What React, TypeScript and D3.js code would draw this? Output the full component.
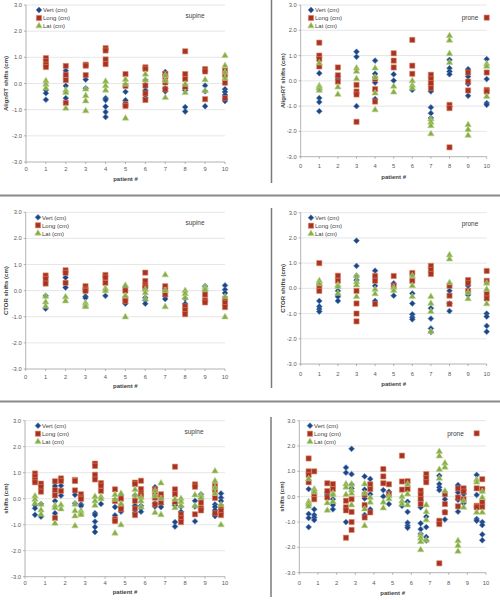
import React from "react";
import * as d3 from "d3";

// ---------- data: values per patient (index 0 = patient 1) ----------
const patients = [1, 2, 3, 4, 5, 6, 7, 8, 9, 10];
const xTicks = [0, 1, 2, 3, 4, 5, 6, 7, 8, 9, 10];
const yTicks = [3, 2, 1, 0, -1, -2, -3];
const seriesNames = ["Vert (cm)", "Long (cm)", "Lat (cm)"];

// AlignRT supine
const alignSupineVert = [[-0.25, -0.37, -0.62], [0.49, -0.09, -0.56], [0.15, -0.18], [-0.56, -0.63, -0.88, -1.09, -1.28], [-0.32, -0.64], [0.13, -0.26, -0.54], [0.44, -0.18, -0.3], [-0.18, -0.26, -0.9, -1.07], [-0.08, -0.3, -0.87], [-0.22, -0.32, -0.44, -0.6, -0.67]];
const alignSupineLong = [[0.97, 0.85, 0.72, 0.63], [0.67, 0.33, 0.13, -0.74], [0.72, 0.68, 0.32], [1.35, 1.26, 0.92, 0.74], [0.36, -0.09, -0.79, -0.86], [0.62, 0.56, -0.08, -0.38, -0.63], [0.36, 0.26, 0.04, -0.22], [1.23, 0.36, 0.17, -0.13], [0.55, 0.46, -0.6], [0.49, 0.33, 0.03, -0.56]];
const alignSupineLat = [[0.1, -0.03, -0.18], [-0.26, -0.35, -0.95], [-0.22, -0.47, -0.67, -1.05], [0.08, -0.09, -0.26], [0.15, -0.03, -1.33], [0.35, 0.13], [0.3, 0.1, -0.54], [-0.03, -0.35], [0.14, -0.28], [1.06, 0.68, 0.42, 0.2]];

// AlignRT prone
const alignProneVert = [[0.3, -0.33, -0.68, -0.84, -1.2], [0.17, 0.07], [1.15, 0.95, -1.0], [0.8, 0.28, -0.07, -0.72], [0.26, 0.01], [-0.36], [-0.13, -0.42, -1.05, -1.28, -1.47], [0.83, 0.5, 0.37, 0.26], [0.46, 0.17, -0.12, -0.59], [0.86, 0.07, -0.88, -0.95]];
const alignProneLong = [[1.51, 1.0, 0.86, 0.57], [0.53, 0.22, -0.03], [-0.16, -0.42, -0.54, -1.62], [0.08, -0.33, -0.82], [1.09, 0.8, 0.53], [1.62, 0.6, 0.28], [0.24, 0.08, -0.09, -0.29], [-0.95, -1.08, -2.63], [0.33, -0.03, -0.38], [2.5, 0.33, -0.36, -0.42]];
const alignProneLat = [[0.7, -0.2, -0.28, -0.38], [-0.25, -0.54], [0.5, 0.37, 0.08], [0.5, 0.13, -0.49, -1.15], [-0.22, -0.45], [0.0, -0.18, -0.29], [-1.51, -1.64, -1.78, -2.1], [1.78, 1.6, 1.07, 0.72], [-1.74, -1.93, -2.16], [0.67, 0.57, -0.62]];

// CTOR supine
const ctorSupineVert = [[-0.2, -0.69], [0.5, 0.12], [-0.22, -0.28], [-0.2], [0.14, -0.5], [-0.27, -0.37, -0.5], [-0.22, -0.32], [-0.3, -0.5], [0.17, 0.0, -0.37], [0.2, 0.04, -0.09]];
const ctorSupineLong = [[0.58, 0.45, 0.27], [0.78, 0.68, 0.3], [0.17, 0.04, -0.01], [0.6, 0.5, 0.3], [0.0, -0.3, -0.4], [0.69, 0.37, 0.2, 0.12], [0.17, 0.01, -0.14], [-0.6, -0.75, -0.9], [-0.15, -0.37, -0.45], [-0.32, -0.47, -0.63]];
const ctorSupineLat = [[-0.22, -0.44, -0.6], [-0.24, -0.4], [-0.47, -0.56, -0.62], [0.08, -0.01], [0.2, -0.2, -1.01], [0.04, -0.09, -0.32], [0.6, 0.0, -0.62], [0.0, -0.12, -0.28], [0.14, 0.04], [-0.24, -1.01]];

// CTOR prone
const ctorProneVert = [[-0.5, -0.72, -0.82, -0.92], [-0.1, -0.26, -0.33, -0.5], [1.89, 0.89, 0.49, 0.33], [0.7, 0.1, -0.5], [0.2, -0.29], [-0.2, -0.6, -1.03, -1.15, -1.23], [-0.79, -1.2, -1.59, -1.73], [-0.1, -0.6, -0.9], [0.1, -0.26], [-1.0, -1.12, -1.49, -1.72]];
const ctorProneLong = [[1.0, 0.1, -0.1], [0.5, 0.3], [-0.1, -0.6, -1.0, -1.31], [0.49, 0.3, -0.62], [0.49, 0.1], [0.61, 0.3], [0.89, 0.73, 0.57], [0.1, -0.29, -0.62], [0.33, 0.2, -0.1], [0.69, 0.3, -0.22, -0.4]];
const ctorProneLat = [[0.3, 0.18], [0.13, 0.07, -0.2], [0.49, 0.26, 0.13, -0.33], [-0.04, -0.22], [0.03, -0.09], [0.49, 0.1, -0.33], [-0.33, -0.6, -0.92, -1.72], [1.32, 1.16, 0.22], [-0.17, -0.42], [0.2, -0.04, -0.62]];

// x offsets used in the combined panels
const alignOffset = -0.5;
const ctorOffset = -0.2;

type Pt = { x: number; y: number };
type Series = Pt[];

function toPoints(vals: number[][], offset: number): Pt[] {
  const out: Pt[] = [];
  vals.forEach((arr, i) => arr.forEach((v) => out.push({ x: patients[i] + offset, y: v })));
  return out;
}

const colors = {
  vert: { fill: "#1F4584", stroke: "#4F7DBA" },
  long: { fill: "#A83228", stroke: "#DA8458" },
  lat: { fill: "#88AD48", stroke: "#B9D38A" },
};

type PanelCfg = {
  x0: number; x10: number; yTop: number; yBot: number;
  yTitle: string; yTitleX: number; tag: string; tagX: number; tagY: number;
  tickDy: number; titleDy: number; legendX: number;
  series: Series[];
};

const panels: PanelCfg[] = [
  {
    x0: 26, x10: 225, yTop: 5, yBot: 162, yTitle: "AlignRT shifts (cm)", yTitleX: 6,
    tag: "supine", tagX: 195, tagY: 16, tickDy: 7, titleDy: 17, legendX: 39,
    series: [toPoints(alignSupineVert, 0), toPoints(alignSupineLong, 0), toPoints(alignSupineLat, 0)],
  },
  {
    x0: 300.7, x10: 486.7, yTop: 5, yBot: 156.7, yTitle: "AlignRT shifts (cm)", yTitleX: 283,
    tag: "prone", tagX: 470, tagY: 17.7, tickDy: 9.3, titleDy: 20, legendX: 311,
    series: [toPoints(alignProneVert, 0), toPoints(alignProneLong, 0), toPoints(alignProneLat, 0)],
  },
  {
    x0: 25.7, x10: 225, yTop: 212.3, yBot: 369, yTitle: "CTOR shifts (cm)", yTitleX: 6,
    tag: "supine", tagX: 195, tagY: 223.3, tickDy: 7.7, titleDy: 16.7, legendX: 38,
    series: [toPoints(ctorSupineVert, 0), toPoints(ctorSupineLong, 0), toPoints(ctorSupineLat, 0)],
  },
  {
    x0: 300.7, x10: 486.7, yTop: 212.7, yBot: 364, yTitle: "CTOR shifts (cm)", yTitleX: 283,
    tag: "prone", tagX: 470, tagY: 224.3, tickDy: 9.7, titleDy: 20, legendX: 311,
    series: [toPoints(ctorProneVert, 0), toPoints(ctorProneLong, 0), toPoints(ctorProneLat, 0)],
  },
  {
    x0: 25, x10: 225, yTop: 420.7, yBot: 576.7, yTitle: "shifts (cm)", yTitleX: 6,
    tag: "supine", tagX: 194, tagY: 432.3, tickDy: 6.6, titleDy: 15.6, legendX: 38,
    series: [
      [...toPoints(alignSupineVert, alignOffset), ...toPoints(ctorSupineVert, ctorOffset)],
      [...toPoints(alignSupineLong, alignOffset), ...toPoints(ctorSupineLong, ctorOffset)],
      [...toPoints(alignSupineLat, alignOffset), ...toPoints(ctorSupineLat, ctorOffset)],
    ],
  },
  {
    x0: 299.3, x10: 486, yTop: 420.7, yBot: 572.7, yTitle: "shifts (cm)", yTitleX: 282,
    tag: "prone", tagX: 455.5, tagY: 434, tickDy: 10, titleDy: 20, legendX: 310,
    series: [
      [...toPoints(alignProneVert, alignOffset), ...toPoints(ctorProneVert, ctorOffset)],
      [...toPoints(alignProneLong, alignOffset), ...toPoints(ctorProneLong, ctorOffset)],
      [...toPoints(alignProneLat, alignOffset), ...toPoints(ctorProneLat, ctorOffset)],
    ],
  },
];

const diamondPath = () => {
  const p = d3.path();
  const r = 2.9;
  p.moveTo(0, -r); p.lineTo(r, 0); p.lineTo(0, r); p.lineTo(-r, 0); p.closePath();
  return p.toString();
};
const diamond = diamondPath();
const square = d3.symbol().type(d3.symbolSquare).size(27)()!;
const triangle = d3.symbol().type(d3.symbolTriangle).size(18)()!;
const shapes = [diamond, square, triangle];
const styles = [colors.vert, colors.long, colors.lat];

const FONT = "'Liberation Sans', Arial, sans-serif";

function Panel({ p }: { p: PanelCfg }) {
  const x = d3.scaleLinear().domain([0, 10]).range([p.x0, p.x10]);
  const y = d3.scaleLinear().domain([-3, 3]).range([p.yBot, p.yTop]);
  return (
    <g>
      {yTicks.map((t) => (
        <line key={"g" + t} x1={p.x0} x2={p.x10} y1={y(t)} y2={y(t)} stroke={t === -3 ? "#a0a0a0" : "#e0e0e0"} strokeWidth={0.8} />
      ))}
      <line x1={p.x0} x2={p.x0} y1={p.yTop} y2={p.yBot} stroke="#a0a0a0" strokeWidth={0.8} />
      {yTicks.map((t) => (
        <g key={"yt" + t}>
          <line x1={p.x0 - 2} x2={p.x0} y1={y(t)} y2={y(t)} stroke="#a0a0a0" strokeWidth={0.8} />
          <text x={p.x0 - 4} y={y(t) + 2} fontSize={5.8} fill="#595959" textAnchor="end" fontFamily={FONT}>
            {t.toFixed(1)}
          </text>
        </g>
      ))}
      {xTicks.map((t) => (
        <g key={"xt" + t}>
          <line x1={x(t)} x2={x(t)} y1={p.yBot} y2={p.yBot + 2} stroke="#a0a0a0" strokeWidth={0.8} />
          <text x={x(t)} y={p.yBot + p.tickDy + 2} fontSize={5.8} fill="#595959" textAnchor="middle" fontFamily={FONT}>
            {t}
          </text>
        </g>
      ))}
      <text x={(p.x0 + p.x10) / 2} y={p.yBot + p.titleDy + 2} fontSize={6} fontWeight="bold" fill="#404040" textAnchor="middle" fontFamily={FONT}>
        patient #
      </text>
      <text
        transform={`translate(${p.yTitleX + 2},${(p.yTop + p.yBot) / 2}) rotate(-90)`}
        fontSize={6} fontWeight="bold" fill="#404040" textAnchor="middle" fontFamily={FONT}
      >
        {p.yTitle}
      </text>
      <text x={p.tagX} y={p.tagY + 2} fontSize={6.5} fill="#404040" textAnchor="middle" fontFamily={FONT}>
        {p.tag}
      </text>
      {seriesNames.map((n, i) => (
        <g key={n} transform={`translate(${p.legendX},${p.yTop + 5 + i * 8})`}>
          <path d={shapes[i]} fill={styles[i].fill} stroke={styles[i].stroke} strokeWidth={0.6} />
          <text x={4} y={2.2} fontSize={6} fill="#404040" fontFamily={FONT}>
            {n}
          </text>
        </g>
      ))}
      {p.series.map((s, si) => (
        <g key={"s" + si}>
          {s.map((d, i) => (
            <path
              key={i}
              d={shapes[si]}
              transform={`translate(${x(d.x)},${y(d.y)})`}
              fill={styles[si].fill}
              stroke={styles[si].stroke}
              strokeWidth={0.6}
            />
          ))}
        </g>
      ))}
    </g>
  );
}

export default function App() {
  return (
    <svg width={500} height={600} style={{ position: "absolute", left: 0, top: 0, background: "#fff" }}>
      <rect width={500} height={600} fill="#fff" />
      <line x1={0} x2={500} y1={195.5} y2={195.5} stroke="#8a8a8a" strokeWidth={2} />
      <line x1={0} x2={500} y1={401.5} y2={401.5} stroke="#8a8a8a" strokeWidth={2} />
      <line x1={271.5} x2={271.5} y1={0} y2={183} stroke="#7a7a7a" strokeWidth={1.5} />
      <line x1={271.5} x2={271.5} y1={208} y2={388} stroke="#7a7a7a" strokeWidth={1.5} />
      <line x1={271} x2={271} y1={417} y2={597} stroke="#7a7a7a" strokeWidth={1.5} />
      {panels.map((p, i) => (
        <Panel key={i} p={p} />
      ))}
    </svg>
  );
}
